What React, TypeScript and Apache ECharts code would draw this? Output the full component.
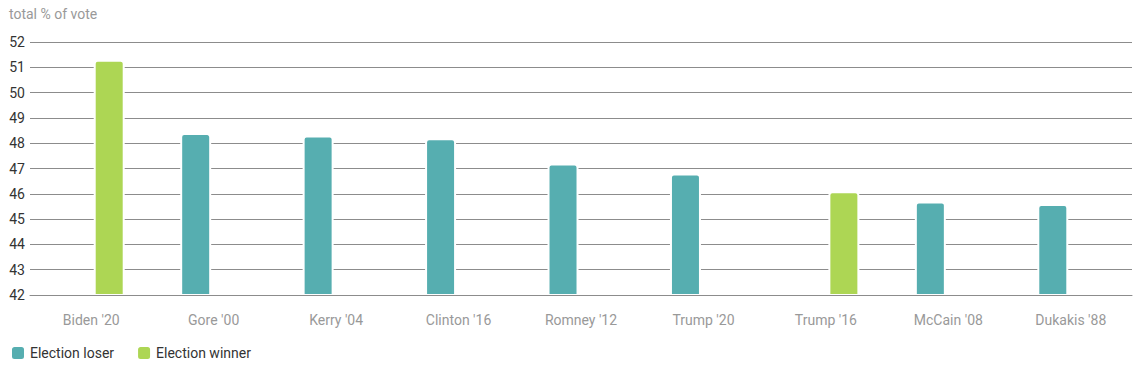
import React, { useEffect, useRef } from "react";
import * as echarts from "echarts";

const categories = ["Biden '20", "Gore '00", "Kerry '04", "Clinton '16", "Romney '12", "Trump '20", "Trump '16", "McCain '08", "Dukakis '88"];
const loserValues: (number | null)[] = [null, 48.4, 48.3, 48.2, 47.2, 46.8, null, 45.7, 45.6];
const winnerValues: (number | null)[] = [51.3, null, null, null, null, null, 46.1, null, null];
const yMin = 42;
const yMax = 52;

export default function App() {
  const ref = useRef<HTMLDivElement>(null);
  useEffect(() => {
    if (!ref.current) return;
    const chart = echarts.init(ref.current, null, { renderer: "svg" });
    const font = "Roboto, 'Noto Sans', sans-serif";
    chart.setOption({
      animation: false,
      textStyle: { fontFamily: font },
      title: {
        text: "total % of vote",
        left: 4,
        top: 2,
        textStyle: { fontSize: 14, fontWeight: "normal", color: "#999", fontFamily: font },
      },
      legend: {
        left: 5,
        bottom: 2,
        icon: "roundRect",
        itemWidth: 14,
        itemHeight: 14,
        itemGap: 22,
        textStyle: { fontSize: 14, color: "#333", fontFamily: font },
        data: ["Election loser", "Election winner"],
      },
      grid: { left: 30, right: 13, top: 42, bottom: 73, containLabel: false },
      xAxis: {
        type: "category",
        data: categories,
        z: 5,
        axisLine: { show: true, lineStyle: { color: "#8c8c8c", width: 1 } },
        axisTick: { show: false },
        axisLabel: { color: "#999", fontSize: 14, margin: 18, fontFamily: font },
      },
      yAxis: {
        type: "value",
        min: yMin,
        max: yMax,
        interval: 1,
        axisLine: { show: false },
        axisTick: { show: false },
        axisLabel: { color: "#333", fontSize: 14, margin: 5, fontFamily: font },
        splitLine: { lineStyle: { color: "#8c8c8c", width: 1 } },
      },
      series: [
        {
          name: "Election loser",
          type: "bar",
          data: loserValues,
          barWidth: 31,
          barGap: "16%",
          itemStyle: { color: "#56aeb0", borderRadius: [3, 3, 0, 0], borderColor: "#fff", borderWidth: 2 },
        },
        {
          name: "Election winner",
          type: "bar",
          data: winnerValues,
          barWidth: 31,
          itemStyle: { color: "#add654", borderRadius: [3, 3, 0, 0], borderColor: "#fff", borderWidth: 2 },
        },
      ],
    });
    return () => chart.dispose();
  }, []);
  return <div ref={ref} style={{ position: "absolute", left: 0, top: 0, width: 1145, height: 368 }} />;
}
